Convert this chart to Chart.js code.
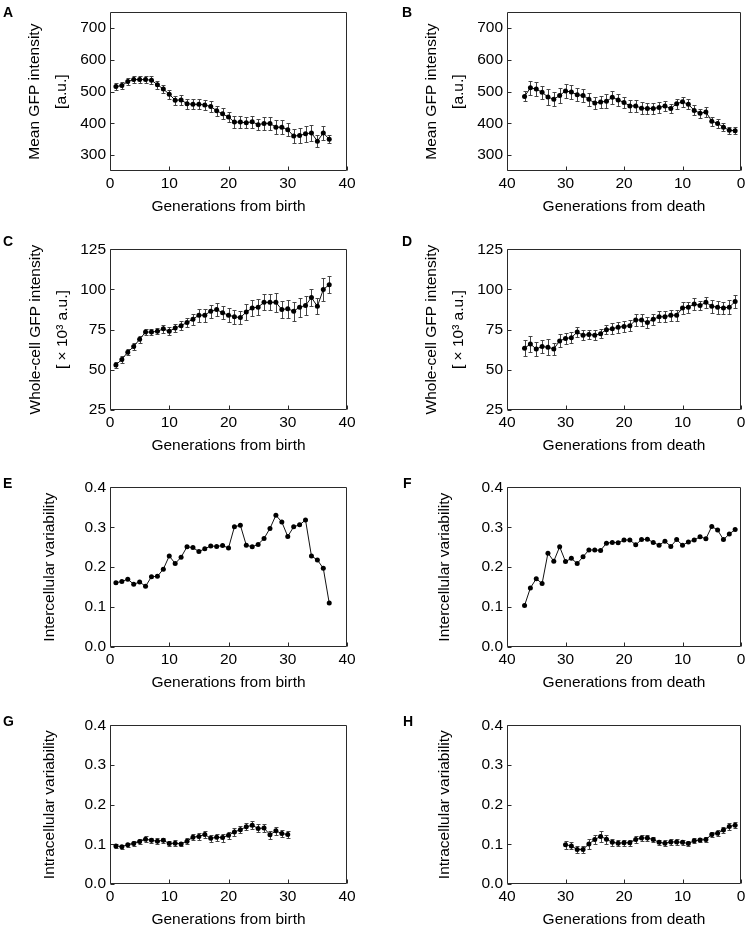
<!DOCTYPE html>
<html><head><meta charset="utf-8">
<script src="https://cdn.jsdelivr.net/npm/chart.js@4.4.0/dist/chart.umd.min.js"></script>
<style>
html,body{margin:0;padding:0;background:#fff;width:747px;height:927px;overflow:hidden}
#wrap{position:relative;width:747px;height:927px}
canvas{position:absolute}
.lab{position:absolute;font:bold 14px "Liberation Sans",Arial,sans-serif;color:#000;line-height:1}
</style></head><body><div id="wrap"></div>
<script>
// ---------- data ----------
const genBirth37 = [1,2,3,4,5,6,7,8,9,10,11,12,13,14,15,16,17,18,19,20,21,22,23,24,25,26,27,28,29,30,31,32,33,34,35,36,37];
const genDeath37 = [37,36,35,34,33,32,31,30,29,28,27,26,25,24,23,22,21,20,19,18,17,16,15,14,13,12,11,10,9,8,7,6,5,4,3,2,1];
const genBirth30 = [1,2,3,4,5,6,7,8,9,10,11,12,13,14,15,16,17,18,19,20,21,22,23,24,25,26,27,28,29,30];
const genDeath30 = [30,29,28,27,26,25,24,23,22,21,20,19,18,17,16,15,14,13,12,11,10,9,8,7,6,5,4,3,2,1];

const meanGfpBirth = [516,519,532,538,538,538,536,522,508,492,473,474,462,460,460,458,453,440,430,420,404,404,402,405,396,400,400,388,388,380,360,362,367,370,344,370,350];
const meanGfpBirthErr = [12,12,12,12,12,12,12,13,13,14,14,15,16,16,16,16,16,16,17,16,18,18,18,18,18,20,20,22,22,20,22,24,26,24,18,22,12];
const meanGfpDeath = [485,512,508,498,483,476,488,502,499,490,488,476,464,467,470,482,474,466,455,455,448,447,447,450,455,447,462,468,460,441,432,436,407,400,388,378,377];
const meanGfpDeathErr = [16,22,22,20,25,22,25,22,22,20,20,20,20,20,22,20,18,18,20,18,18,18,16,16,16,14,16,16,16,16,14,16,14,14,12,12,12];

const wholeGfpBirth = [53,56.5,61,64.5,69,73.5,73.5,74,75.5,74,76,77.5,79.5,81.5,84,84,86.5,87.5,85.5,84,83,82.5,86,88.5,89,92,92,92,87.5,88,86.5,89,90,95,89.5,100,103];
const wholeGfpBirthErr = [2,2,2,2,2,2,2,2,2.5,2.5,2.5,3,3,3.5,4,4,4,4,4,4.5,4.5,4,5,5,5,5,5,6,5.5,5.5,6,6,6,5.5,5,7,5.5];
const wholeGfpDeath = [63.5,66,63,64.5,64,63,68,69.5,70,73.5,71.5,72,71.5,72.5,75,75.5,76.5,77,77.5,81,81,79.5,81.5,83,83,84,84,88.5,89,91,90,92,89.5,89,88.5,89,92.5];
const wholeGfpDeathErr = [5,5,4.5,4,5,4,4,3.5,3.5,3,3,3,3,3,3,3.5,3.5,3.5,3.5,3.5,3.5,3.5,3.5,3.5,3.5,3.5,3.5,3.5,3.5,3.5,3,3.5,4,4,4,4.5,4];

const interBirth = [0.161,0.164,0.170,0.157,0.163,0.152,0.176,0.177,0.195,0.228,0.209,0.225,0.251,0.249,0.239,0.246,0.253,0.252,0.254,0.248,0.301,0.305,0.255,0.251,0.257,0.272,0.297,0.330,0.313,0.277,0.301,0.306,0.318,0.228,0.218,0.197,0.110];
const interDeath = [0.104,0.148,0.171,0.159,0.235,0.215,0.251,0.214,0.222,0.209,0.226,0.243,0.243,0.242,0.260,0.262,0.261,0.268,0.268,0.256,0.269,0.270,0.262,0.255,0.265,0.252,0.269,0.255,0.263,0.268,0.276,0.271,0.302,0.293,0.269,0.283,0.294];

const intraBirth = [0.096,0.094,0.099,0.102,0.107,0.113,0.110,0.108,0.110,0.102,0.103,0.101,0.108,0.118,0.120,0.125,0.115,0.118,0.117,0.123,0.131,0.137,0.144,0.148,0.140,0.141,0.124,0.134,0.127,0.125];
const intraBirthErr = [0.005,0.005,0.005,0.006,0.006,0.007,0.007,0.007,0.007,0.007,0.007,0.006,0.007,0.008,0.008,0.009,0.009,0.009,0.010,0.009,0.009,0.009,0.009,0.010,0.010,0.010,0.010,0.010,0.009,0.008];
const intraDeath = [0.099,0.096,0.087,0.087,0.101,0.112,0.120,0.113,0.105,0.103,0.104,0.104,0.112,0.116,0.116,0.112,0.105,0.103,0.106,0.106,0.105,0.102,0.109,0.111,0.112,0.125,0.128,0.136,0.145,0.148];
const intraDeathErr = [0.010,0.009,0.009,0.009,0.012,0.012,0.013,0.011,0.009,0.008,0.008,0.008,0.008,0.008,0.008,0.007,0.007,0.007,0.007,0.007,0.007,0.006,0.006,0.006,0.006,0.007,0.008,0.008,0.008,0.008];

const xTickValues = [0,10,20,30,40];
const yTicksMean = [300,400,500,600,700];
const yTicksWhole = [25,50,75,100,125];
const yTicksVar = [0,0.1,0.2,0.3,0.4];

const titleBirth = 'Generations from birth';
const titleDeath = 'Generations from death';
const titleMean = ['Mean GFP intensity','[a.u.]'];
const titleWhole = ['Whole-cell GFP intensity','[ \u00d7 10\u00b3 a.u.]'];
const titleInter = 'Intercellular variability';
const titleIntra = 'Intracellular variability';
const panelLetters = ['A','B','C','D','E','F','G','H'];

// ---------- layout ----------
const FONT = '"Liberation Sans", Arial, sans-serif';
const rowTop = [9,246,484,722];
const rowBottom = [171,410,647,884];
const cols = [
  {cx:0, plotLeft:110, plotRight:347, width:361},
  {cx:370, plotLeft:507, plotRight:741, width:377}
];
const letterPos = [[3,5],[402,5],[3,234],[402,234],[3,476],[403,476],[3,714],[403,714]];

const panels = [
  {x:genBirth37, y:meanGfpBirth, e:meanGfpBirthErr, yt:yTicksMean, min:250, max:750, rev:false, yTitle:titleMean, xTitle:titleBirth, ytx:35, dec:0},
  {x:genDeath37, y:meanGfpDeath, e:meanGfpDeathErr, yt:yTicksMean, min:250, max:750, rev:true, yTitle:titleMean, xTitle:titleDeath, ytx:62, dec:0},
  {x:genBirth37, y:wholeGfpBirth, e:wholeGfpBirthErr, yt:yTicksWhole, min:25, max:125, rev:false, yTitle:titleWhole, xTitle:titleBirth, ytx:36, dec:0},
  {x:genDeath37, y:wholeGfpDeath, e:wholeGfpDeathErr, yt:yTicksWhole, min:25, max:125, rev:true, yTitle:titleWhole, xTitle:titleDeath, ytx:62, dec:0},
  {x:genBirth37, y:interBirth, e:null, yt:yTicksVar, min:0, max:0.4, rev:false, yTitle:titleInter, xTitle:titleBirth, ytx:50, dec:1},
  {x:genDeath37, y:interDeath, e:null, yt:yTicksVar, min:0, max:0.4, rev:true, yTitle:titleInter, xTitle:titleDeath, ytx:75, dec:1},
  {x:genBirth30, y:intraBirth, e:intraBirthErr, yt:yTicksVar, min:0, max:0.4, rev:false, yTitle:titleIntra, xTitle:titleBirth, ytx:50, dec:1},
  {x:genDeath30, y:intraDeath, e:intraDeathErr, yt:yTicksVar, min:0, max:0.4, rev:true, yTitle:titleIntra, xTitle:titleDeath, ytx:75, dec:1}
];

const errorBarPlugin = {
  id:'errbars',
  beforeDatasetsDraw(chart){
    const {ctx, scales:{x,y}} = chart;
    const ds = chart.data.datasets[0];
    if (!ds.errors) return;
    ctx.save();
    ctx.strokeStyle = '#444'; ctx.lineWidth = 1; ctx.setLineDash([]);
    ctx.beginPath();
    ds.data.forEach((p,i)=>{
      const px = Math.round(x.getPixelForValue(p.x))+0.5;
      const y1 = Math.round(y.getPixelForValue(p.y + ds.errors[i]))+0.5;
      const y2 = Math.round(y.getPixelForValue(p.y - ds.errors[i]))+0.5;
      ctx.moveTo(px,y1); ctx.lineTo(px,y2);
      ctx.moveTo(px-2,y1); ctx.lineTo(px+2,y1);
      ctx.moveTo(px-2,y2); ctx.lineTo(px+2,y2);
    });
    ctx.stroke();
    ctx.restore();
  }
};
const framePlugin = {
  id:'frame',
  afterDraw(chart){
    const {ctx, chartArea:a, scales:{x,y}} = chart;
    ctx.save();
    ctx.globalAlpha = 1; ctx.setLineDash([]);
    ctx.strokeStyle = '#2a2a2a'; ctx.lineWidth = 1;
    const L = Math.round(a.left)+0.5, T = Math.round(a.top)+0.5, R = Math.round(a.right)-0.5, B = Math.round(a.bottom)-0.5;
    ctx.beginPath();
    ctx.moveTo(L,T); ctx.lineTo(R,T); ctx.lineTo(R,B); ctx.lineTo(L,B); ctx.closePath();
    x.ticks.forEach(t=>{const px=Math.round(x.getPixelForValue(t.value))+0.5; ctx.moveTo(px,B); ctx.lineTo(px,B-4);});
    y.ticks.forEach(t=>{const py=Math.round(y.getPixelForValue(t.value))+0.5; ctx.moveTo(L,py); ctx.lineTo(L+4,py);});
    ctx.stroke();
    ctx.restore();
  }
};

const wrap = document.getElementById('wrap');
panels.forEach((p,i)=>{
  const col = cols[i%2], row = Math.floor(i/2);
  const top = rowTop[row]-10;
  const h = rowBottom[row]+45-top;
  const cv = document.createElement('canvas');
  cv.width = col.width; cv.height = h;
  cv.style.left = col.cx+'px'; cv.style.top = top+'px';
  cv.style.width = col.width+'px'; cv.style.height = h+'px';
  wrap.appendChild(cv);
  const lab = document.createElement('div');
  lab.className = 'lab'; lab.textContent = panelLetters[i];
  lab.style.left = letterPos[i][0]+'px'; lab.style.top = letterPos[i][1]+'px';
  wrap.appendChild(lab);
  const yw = col.plotLeft - col.cx;
  const yFontLH = 1.75, yFontSize = 15.5;
  new Chart(cv.getContext('2d'), {
    type:'line',
    data:{datasets:[{
      data: p.x.map((v,k)=>({x:v, y:p.y[k]})),
      errors: p.e,
      borderColor:'#111', borderWidth:1, pointRadius:2.5, pointBackgroundColor:'#000', pointBorderColor:'#000', pointBorderWidth:0, tension:0
    }]},
    options:{
      responsive:false, animation:false, devicePixelRatio:1,
      layout:{padding:{top:10, right:col.width-col.plotRight+col.cx, bottom:0, left:0}},
      plugins:{legend:{display:false}, tooltip:{enabled:false}},
      scales:{
        x:{type:'linear', min:0, max:40, reverse:p.rev,
          afterBuildTicks:s=>{s.ticks = xTickValues.map(v=>({value:v}));},
          afterFit:s=>{s.height = 45;},
          grid:{display:false, drawTicks:false}, border:{display:false},
          ticks:{color:'#000', padding:3, maxRotation:0, autoSkip:false, font:{family:FONT, size:15.5}},
          title:{display:true, text:p.xTitle, color:'#000', padding:0, font:{family:FONT, size:15.5, lineHeight:1.2}}
        },
        y:{type:'linear', min:p.min, max:p.max,
          afterBuildTicks:s=>{s.ticks = p.yt.map(v=>({value:v}));},
          afterFit:s=>{s.width = yw;},
          grid:{display:false, drawTicks:false}, border:{display:false},
          ticks:{color:'#000', padding:4, autoSkip:false, font:{family:FONT, size:15.5},
            callback:v=>Number(v).toFixed(p.dec)},
          title:{display:true, text:p.yTitle, color:'#000',
            padding:{top:p.ytx - yFontSize*yFontLH/2, bottom:0},
            font:{family:FONT, size:yFontSize, lineHeight:yFontLH}}
        }
      }
    },
    plugins:[errorBarPlugin, framePlugin]
  });
});
</script></body></html>
